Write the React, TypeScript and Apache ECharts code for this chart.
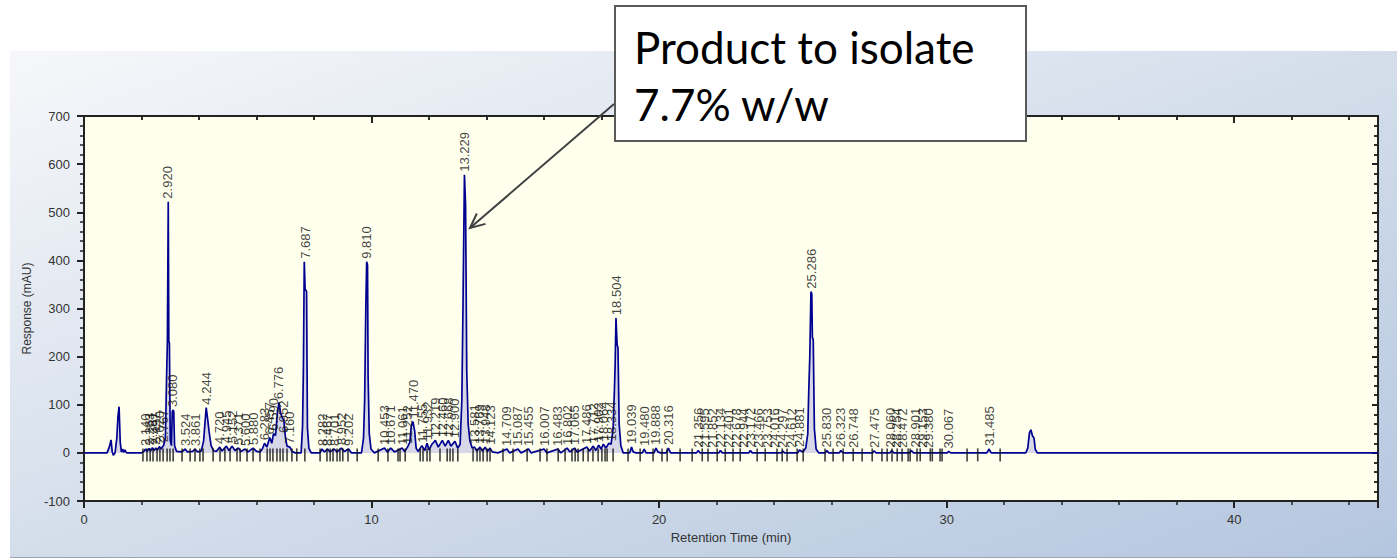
import React, { useEffect, useRef } from "react";
import * as echarts from "echarts";

// Chromatogram trace: [retention time (min), response (mAU)]
const trace: [number, number][] = [
  [0, 0], [0.8, 0], [0.88, 12], [0.94, 27], [0.98, 3], [1.02, -5], [1.08, 0], [1.14, 30], [1.18, 75], [1.22, 96], [1.26, 22], [1.3, 2], [1.34, 8], [1.38, 1], [1.42, 6], [1.48, 0],
  [2.0, 0], [2.08, 3], [2.14, 8], [2.2, 3], [2.26, 9], [2.32, 4], [2.38, 11], [2.44, 5], [2.5, 10], [2.56, 6], [2.62, 13], [2.68, 8], [2.77, 16], [2.83, 30], [2.87, 150], [2.9, 232], [2.93, 522], [2.95, 232], [2.97, 228], [3.0, 25], [3.04, 15], [3.07, 85], [3.09, 89], [3.12, 87], [3.15, 15], [3.22, 3], [3.4, 2], [3.52, 8], [3.6, 2], [3.78, 3], [3.86, 8], [3.95, 2],
  [4.08, 4], [4.16, 25], [4.21, 65], [4.25, 94], [4.3, 70], [4.35, 44], [4.42, 15], [4.5, 5], [4.6, 3], [4.72, 12], [4.8, 4], [4.95, 14], [5.04, 5], [5.15, 14], [5.25, 5], [5.37, 10], [5.46, 3], [5.6, 8], [5.7, 2], [5.88, 10], [6.0, 3], [6.12, 2], [6.2, 8], [6.28, 20], [6.36, 12], [6.46, 32], [6.53, 20], [6.59, 40], [6.66, 36], [6.72, 80], [6.78, 105], [6.84, 82], [6.9, 72], [6.95, 68], [7.0, 35], [7.06, 14], [7.16, 12], [7.24, 3], [7.35, 0],
  [7.55, 0], [7.6, 55], [7.63, 175], [7.66, 397], [7.69, 340], [7.74, 336], [7.77, 52], [7.82, 10], [7.9, 0], [8.2, 0], [8.28, 8], [8.36, 2], [8.47, 8], [8.55, 2], [8.7, 8], [8.8, 2], [8.95, 10], [9.05, 3], [9.2, 8], [9.3, 0],
  [9.65, 0], [9.72, 30], [9.76, 110], [9.8, 300], [9.83, 397], [9.86, 390], [9.88, 158], [9.92, 40], [9.98, 8], [10.1, 0], [10.45, 10], [10.55, 2], [10.67, 10], [10.8, 2], [11.06, 10], [11.15, 3], [11.25, 12], [11.33, 22], [11.38, 55], [11.44, 65], [11.5, 45], [11.55, 10], [11.62, 3], [11.75, 15], [11.85, 5], [11.93, 20], [12.0, 6], [12.1, 18], [12.22, 26], [12.32, 12], [12.46, 26], [12.56, 14], [12.67, 26], [12.76, 14], [12.9, 24], [13.0, 10], [13.08, 18],
  [13.14, 110], [13.18, 305], [13.23, 578], [13.27, 515], [13.31, 170], [13.36, 60], [13.42, 25], [13.5, 10], [13.58, 12], [13.66, 4], [13.77, 12], [13.86, 4], [13.95, 12], [14.03, 3], [14.12, 10], [14.2, 2], [14.4, 0], [14.71, 8], [14.8, 0], [15.09, 8], [15.2, 0], [15.46, 8], [15.55, 0], [16.0, 8], [16.1, 0], [16.48, 8], [16.58, 0], [16.8, 10], [16.9, 2], [17.06, 10], [17.15, 2], [17.49, 12], [17.58, 4], [17.71, 14], [17.8, 5], [17.9, 16], [17.98, 8], [18.06, 18], [18.15, 10], [18.25, 20], [18.33, 18],
  [18.4, 50], [18.44, 120], [18.47, 180], [18.5, 280], [18.54, 225], [18.57, 218], [18.61, 60], [18.67, 15], [18.75, 0], [18.98, 0], [19.04, 12], [19.1, 2], [19.2, 0], [19.42, 0], [19.48, 8], [19.55, 0], [19.82, 0], [19.89, 10], [19.96, 2], [20.05, 0], [20.25, 0], [20.32, 10], [20.4, 0],
  [21.3, 0], [21.36, 5], [21.42, 0], [22.08, 0], [22.13, 5], [22.2, 0], [23.12, 0], [23.17, 5], [23.24, 0], [24.25, 0], [24.3, 4], [24.36, 0], [24.82, 0], [24.88, 6], [25.0, 2], [25.1, 10], [25.17, 40], [25.2, 120], [25.24, 200], [25.28, 335], [25.31, 330], [25.33, 240], [25.36, 235], [25.4, 50], [25.46, 8], [25.55, 0],
  [25.78, 0], [25.83, 5], [25.9, 0], [26.27, 0], [26.32, 5], [26.4, 0], [27.42, 0], [27.47, 4], [27.55, 0], [28.03, 0], [28.09, 5], [28.16, 0], [28.72, 0], [28.77, 5], [28.85, 0], [30.02, 0], [30.07, 3], [30.14, 0], [31.4, 0], [31.47, 8], [31.55, 0],
  [32.75, 0], [32.82, 10], [32.88, 42], [32.93, 48], [32.98, 36], [33.04, 30], [33.08, 8], [33.15, 0], [45, 0],
];

// Integration markers on the baseline (min)
const markerTimes: number[] = [
  2.05, 2.19, 2.3, 2.4, 2.54, 2.64, 2.75, 2.89, 2.99, 3.1, 3.41, 3.69, 3.86, 4.03, 4.14, 4.49, 4.73, 4.9, 5.08, 5.32, 5.43, 5.67, 5.88, 6.12, 6.37, 6.47, 6.57, 6.71, 6.82, 6.92, 7.06, 7.23, 7.4, 7.68,
  8.21, 8.45, 8.56, 8.66, 8.8, 8.9, 9.0, 9.18, 9.5, 10.23, 10.57, 10.92, 10.99, 11.17, 11.69, 11.79, 11.93, 12.03, 12.38, 12.63, 12.73, 12.83, 13.0, 13.53, 13.67, 13.77, 13.88, 14.02, 14.12,
  14.57, 14.92, 15.41, 15.86, 16.1, 16.49, 16.73, 16.97, 17.08, 17.18, 17.36, 17.53, 17.7, 17.88, 18.01, 18.12, 18.19, 18.4, 18.92, 19.34, 19.79, 20.1, 20.28, 20.73,
  21.15, 21.5, 21.7, 22.02, 22.3, 22.57, 22.82, 23.41, 23.69, 24.1, 24.28, 24.45, 24.8, 25.01, 25.77, 26.05, 26.4, 26.75, 27.06, 27.41, 27.75, 27.93, 28.1, 28.28, 28.45, 28.66, 28.73, 28.97, 29.08, 29.43, 29.5, 29.77, 29.84, 30.71, 31.08, 31.86,
];

// Labelled major peaks
const majorPeakTimes: number[] = [2.92, 3.08, 4.244, 6.776, 7.687, 9.81, 11.47, 13.229, 18.504, 25.286];
const majorPeakHeights: number[] = [522, 89, 94, 105, 397, 397, 65, 578, 280, 335];

// Labelled minor peaks
const minorPeakTimes: number[] = [
  2.14, 2.263, 2.381, 2.497, 2.62, 2.767, 3.524, 3.861, 4.72, 4.945, 5.152, 5.371, 5.6, 5.88, 6.283, 6.457, 6.59, 6.952, 7.16,
  8.282, 8.467, 8.701, 8.952, 9.202, 10.453, 10.671, 11.061, 11.252, 11.755, 11.932, 12.219, 12.46, 12.668, 12.9,
  13.581, 13.769, 13.948, 14.123, 14.709, 15.087, 15.455, 16.007, 16.483, 16.802, 17.065, 17.486, 17.712, 17.902, 18.064, 18.334,
  19.039, 19.48, 19.888, 20.316, 21.356, 21.595, 21.852, 22.134, 22.401, 22.678, 22.944, 23.172, 23.466, 23.753, 24.016, 24.297, 24.612, 24.881,
  25.83, 26.323, 26.748, 27.475, 28.06, 28.254, 28.472, 28.901, 29.153, 29.38, 30.067, 31.485,
];
const minorPeakHeights: number[] = [
  8, 9, 11, 10, 13, 16, 8, 8, 12, 14, 14, 10, 8, 10, 20, 32, 40, 35, 12,
  8, 8, 8, 10, 8, 10, 10, 10, 12, 15, 20, 26, 26, 26, 24,
  12, 12, 12, 10, 8, 8, 8, 8, 8, 10, 10, 12, 14, 16, 18, 18,
  12, 8, 10, 10, 5, 4, 4, 5, 4, 4, 4, 5, 4, 4, 4, 4, 4, 6,
  5, 5, 4, 4, 5, 4, 4, 5, 4, 4, 3, 8,
];

const FONT = "Liberation Sans";
const AX = "#222";

export default function App() {
  const ref = useRef<HTMLDivElement>(null);
  useEffect(() => {
    if (!ref.current) return;
    const chart = echarts.init(ref.current, undefined, { renderer: "svg" });
    const peakLabel = {
      show: true,
      position: "top" as const,
      distance: 3,
      rotate: 90,
      align: "left" as const,
      verticalAlign: "middle" as const,
      fontSize: 13,
      fontFamily: FONT,
      color: "#111111",
      formatter: (p: any) => Number(p.value[0]).toFixed(3),
    };
    const xBase = { type: "value" as const, min: 0, max: 45, interval: 10, splitLine: { show: false } };
    const yBase = { type: "value" as const, min: -100, max: 700, interval: 100, splitLine: { show: false } };
    chart.setOption({
      animation: false,
      grid: { left: 84, right: 19, top: 116, bottom: 59, show: true, backgroundColor: "#FFFFEE", borderWidth: 0 },
      xAxis: [
        {
          ...xBase,
          position: "bottom",
          axisLine: { show: true, onZero: false, lineStyle: { color: AX, width: 2 } },
          axisTick: { show: true, inside: false, length: 7, lineStyle: { color: AX, width: 2 } },
          minorTick: { show: true, splitNumber: 5, length: 4, lineStyle: { color: AX, width: 1.5 } },
          axisLabel: { color: "#333", fontSize: 13, fontFamily: FONT, margin: 12, showMaxLabel: false },
          name: "Retention Time (min)",
          nameLocation: "middle",
          nameGap: 30,
          nameTextStyle: { color: "#333", fontSize: 13, fontFamily: FONT },
        },
        {
          ...xBase,
          position: "top",
          axisLine: { show: true, onZero: false, lineStyle: { color: AX, width: 2 } },
          axisTick: { show: true, inside: true, length: 7, lineStyle: { color: AX, width: 2 } },
          minorTick: { show: true, splitNumber: 5, length: 4, lineStyle: { color: AX, width: 1.5 } },
          axisLabel: { show: false },
        },
        {
          ...xBase,
          position: "top",
          axisLine: { show: false, onZero: false },
          axisTick: { show: true, inside: true, length: 6, lineStyle: { color: AX, width: 2 } },
          minorTick: { show: true, splitNumber: 5, length: 4, lineStyle: { color: AX, width: 1.5 } },
          axisLabel: { show: false },
        },
      ],
      yAxis: [
        {
          ...yBase,
          position: "left",
          axisLine: { show: true, onZero: false, lineStyle: { color: AX, width: 2 } },
          axisTick: { show: true, inside: false, length: 7, lineStyle: { color: AX, width: 2 } },
          minorTick: { show: true, splitNumber: 5, length: 4, lineStyle: { color: AX, width: 1.5 } },
          axisLabel: { color: "#333", fontSize: 13, fontFamily: FONT, margin: 14 },
          name: "Response (mAU)",
          nameLocation: "middle",
          nameGap: 44,
          nameTextStyle: { color: "#333", fontSize: 12, fontFamily: FONT },
        },
        {
          ...yBase,
          position: "right",
          axisLine: { show: true, onZero: false, lineStyle: { color: AX, width: 2 } },
          axisTick: { show: true, inside: true, length: 6, lineStyle: { color: AX, width: 2 } },
          minorTick: { show: true, splitNumber: 5, length: 4, lineStyle: { color: AX, width: 1.5 } },
          axisLabel: { show: false },
        },
        {
          ...yBase,
          position: "right",
          axisLine: { show: false, onZero: false },
          axisTick: { show: true, inside: true, length: 6, lineStyle: { color: AX, width: 2 } },
          minorTick: { show: true, splitNumber: 5, length: 4, lineStyle: { color: AX, width: 1.5 } },
          axisLabel: { show: false },
        },
      ],
      series: [
        {
          type: "line",
          data: trace,
          xAxisIndex: 0,
          yAxisIndex: 0,
          showSymbol: false,
          symbol: "none",
          lineStyle: { color: "#000090", width: 1.7 },
          areaStyle: { color: "rgba(90,90,210,0.35)" },
          z: 3,
          silent: true,
        },
        {
          type: "scatter",
          data: markerTimes.map((t) => [t, 0]),
          symbol: "rect",
          symbolSize: [1.6, 13],
          symbolOffset: [0, 2],
          itemStyle: { color: "#111" },
          z: 4,
          silent: true,
        },
        {
          type: "scatter",
          data: majorPeakTimes.map((t, i) => [t, majorPeakHeights[i]]),
          symbolSize: 0,
          label: peakLabel,
          z: 5,
          silent: true,
        },
        {
          type: "scatter",
          data: minorPeakTimes.map((t, i) => [t, minorPeakHeights[i]]),
          symbolSize: 0,
          label: peakLabel,
          z: 5,
          silent: true,
        },
      ],
      graphic: [
        { type: "line", z: 100, shape: { x1: 614, y1: 104, x2: 470, y2: 228 }, style: { stroke: "#404040", lineWidth: 2 } },
        {
          type: "polyline",
          z: 100,
          shape: { points: [[485.5, 223.9], [470, 228], [476.8, 213.5]] },
          style: { stroke: "#404040", lineWidth: 2, fill: null },
        },
        { type: "rect", z: 100, shape: { x: 615, y: 6, width: 411, height: 135 }, style: { fill: "#ffffff", stroke: "#595959", lineWidth: 2 } },
        {
          type: "text",
          z: 101,
          x: 634,
          y: 47,
          style: { text: "Product to isolate", fontSize: 44, fontFamily: "Lato", fill: "#000", verticalAlign: "middle", align: "left" },
        },
        {
          type: "text",
          z: 101,
          x: 634,
          y: 104,
          style: { text: "7.7% w/w", fontSize: 44, fontFamily: "Lato", fill: "#000", verticalAlign: "middle", align: "left" },
        },
      ],
    });
    return () => chart.dispose();
  }, []);

  return (
    <div style={{ position: "fixed", left: 0, top: 0, width: 1397, height: 560, background: "#ffffff", overflow: "hidden" }}>
      <div
        style={{
          position: "absolute",
          left: 10,
          top: 51,
          width: 1387,
          height: 506,
          background: "linear-gradient(to bottom right, #f6f7fa 0%, #d4deeb 50%, #b4c6df 100%)",
          borderBottom: "1px solid #9aa6b8",
        }}
      />
      <div ref={ref} style={{ position: "absolute", left: 0, top: 0, width: 1397, height: 560 }} />
    </div>
  );
}
